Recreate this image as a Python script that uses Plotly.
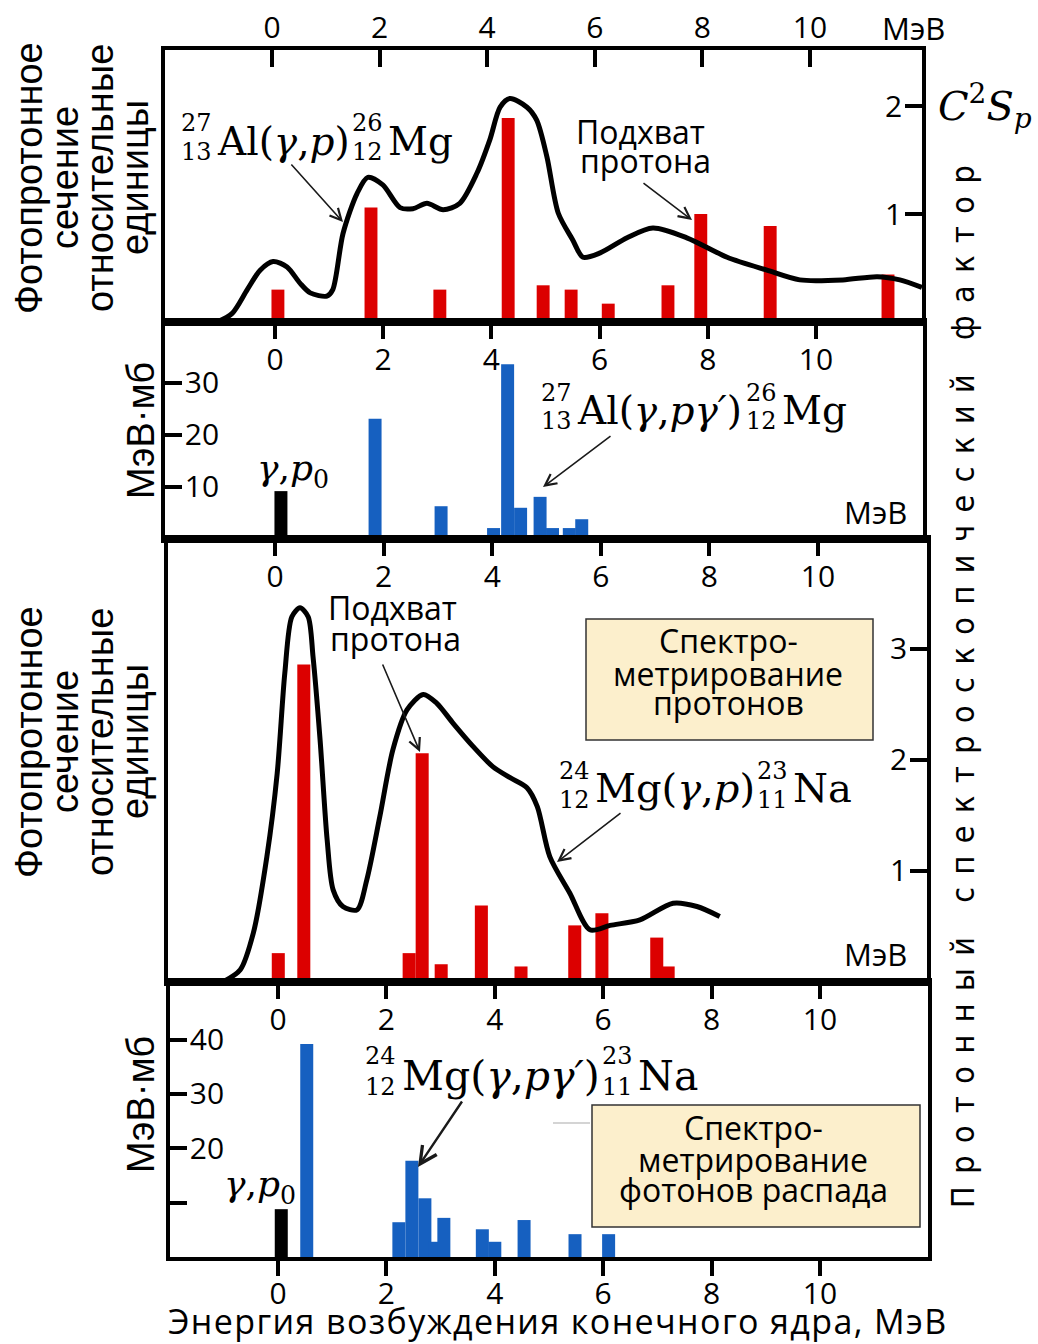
import plotly.graph_objects as go

W, H = 1038, 1344
SANS = "Open Sans, Lato, sans-serif"
ARIAL = "Liberation Sans, Arial, sans-serif"
NARROW = "Liberation Sans Narrow, DejaVu Sans Condensed, Liberation Sans, sans-serif"
SERIF = "DejaVu Serif, Liberation Serif, serif"
RED = "#dc0000"
BLUE = "#1660c0"
CREAM = "#fcefcc"

tick_mev = [0, 2, 4, 6, 8, 10]

# 27Al(γ,p)26Mg — photoproton cross-section (relative units, on the C²Sp scale)
al_curve_e = [-1.02, -0.74, -0.46, -0.22, 0.02, 0.28, 0.52, 0.71, 1.02, 1.13,
              1.32, 1.58, 1.78, 2.06, 2.38, 2.62, 2.88, 3.18, 3.49, 3.81,
              4.05, 4.24, 4.42, 4.74, 4.92, 5.11, 5.32, 5.59, 5.78, 6.10,
              6.60, 7.08, 7.71, 8.46, 9.20, 9.81, 10.61, 11.25, 11.67, 12.08]
al_curve_v = [0.00, 0.08, 0.30, 0.48, 0.56, 0.51, 0.36, 0.27, 0.24, 0.30,
              0.82, 1.19, 1.34, 1.27, 1.06, 1.05, 1.10, 1.04, 1.10, 1.38,
              1.69, 1.99, 2.07, 1.99, 1.87, 1.53, 1.01, 0.76, 0.60, 0.64,
              0.78, 0.87, 0.78, 0.60, 0.48, 0.39, 0.39, 0.42, 0.39, 0.32]
# proton spectroscopic factors of 26Mg levels
al_level_e = [0.11, 1.84, 3.12, 4.39, 5.04, 5.56, 6.25, 7.36, 7.97, 9.26, 11.45]
al_c2sp = [0.30, 1.06, 0.30, 1.89, 0.34, 0.30, 0.17, 0.34, 1.00, 0.89, 0.44]

# 27Al(γ,pγ')26Mg — decay-photon spectrometry, MeV·mb
al_p0_e = [0.11]
al_p0_v = [9.2]
al_gamma_e = [1.85, 3.07, 3.65, 4.04, 4.30, 4.54, 4.90, 5.13, 5.44, 5.67]
al_gamma_v = [23.1, 6.3, 0.6, 2.1, 33.6, 6.0, 8.1, 2.1, 2.1, 3.8]

# 24Mg(γ,p)23Na — photoproton cross-section (relative units, on the C²Sp scale)
mg_curve_e = [-0.96, -0.64, -0.40, -0.15, 0.04, 0.18, 0.31, 0.46, 0.61, 0.70,
              0.83, 0.96, 1.07, 1.25, 1.51, 1.69, 1.93, 2.17, 2.43, 2.73,
              2.98, 3.28, 3.65, 4.01, 4.33, 4.64, 4.83, 5.06, 5.43, 5.80,
              6.17, 6.72, 7.33, 7.77, 8.19]
mg_curve_v = [0.00, 0.11, 0.44, 1.13, 1.88, 2.78, 3.29, 3.37, 3.29, 2.93,
              2.18, 1.28, 0.83, 0.68, 0.65, 0.92, 1.49, 2.09, 2.45, 2.59,
              2.51, 2.33, 2.12, 1.94, 1.84, 1.75, 1.58, 1.13, 0.80, 0.47,
              0.51, 0.56, 0.71, 0.68, 0.59]
# proton spectroscopic factors of 23Na levels
mg_level_e = [0.06, 0.53, 2.47, 2.71, 3.06, 3.80, 4.53, 5.52, 6.02, 7.03, 7.24]
mg_c2sp = [0.26, 2.86, 0.26, 2.06, 0.16, 0.69, 0.14, 0.51, 0.62, 0.40, 0.14]

# 24Mg(γ,pγ')23Na — decay-photon spectrometry, MeV·mb
mg_p0_e = [0.06]
mg_p0_v = [8.8]
mg_gamma_e = [0.53, 2.23, 2.47, 2.71, 2.90, 3.06, 3.77, 4.00, 4.54, 5.48, 6.10]
mg_gamma_v = [39.2, 6.4, 17.7, 10.8, 2.8, 7.2, 5.1, 2.8, 6.8, 4.2, 4.2]

BAR_W = 0.24


def px(x):
    return x / W


def py(y):
    return 1 - y / H


# panel frames in page pixels, axis ranges in data units
panels = {
    1: dict(x=(165, 922), y=(50, 322), xr=(-1.989, 12.082), yr=(0, 2.52)),
    2: dict(x=(165, 923), y=(322, 539), xr=(-2.033, 11.978), yr=(0, 41.7)),
    3: dict(x=(168, 927), y=(539, 982), xr=(-1.971, 12.007), yr=(0, 3.99)),
    4: dict(x=(170, 928), y=(982, 1257), xr=(-1.993, 11.993), yr=(0, 50.6)),
}

fig = go.Figure()


def curve(e, v, xa, ya):
    fig.add_trace(go.Scatter(x=e, y=v, mode="lines", xaxis=xa, yaxis=ya,
                             line=dict(color="black", width=5, shape="spline", smoothing=0.8),
                             hoverinfo="skip"))


def bars(e, v, xa, ya, color):
    fig.add_trace(go.Bar(x=e, y=v, width=BAR_W, xaxis=xa, yaxis=ya,
                         marker=dict(color=color, line=dict(width=0)), hoverinfo="skip"))


curve(al_curve_e, al_curve_v, "x1", "y1")
bars(al_level_e, al_c2sp, "x1", "y1", RED)
bars(al_p0_e, al_p0_v, "x2", "y2", "black")
bars(al_gamma_e, al_gamma_v, "x2", "y2", BLUE)
curve(mg_curve_e, mg_curve_v, "x3", "y3")
bars(mg_level_e, mg_c2sp, "x3", "y3", RED)
bars(mg_gamma_e, mg_gamma_v, "x4", "y4", BLUE)
# ground-state (γ,p0) bar sits on the bottom energy scale of the lowest panel
bars(mg_p0_e, mg_p0_v, "x5", "y4", "black")

tickfont = dict(family=SANS, size=30, color="black")
frame = dict(showline=True, linecolor="black", linewidth=3.5, mirror=True,
             showgrid=False, zeroline=False, ticks="inside", tickwidth=3.5,
             tickcolor="black", ticklen=17, tickfont=tickfont, fixedrange=True)

layout_axes = {}
for n, p in panels.items():
    xd = [px(p["x"][0]), px(p["x"][1])]
    yd = [py(p["y"][1]), py(p["y"][0])]
    layout_axes[f"xaxis{n}"] = dict(frame, domain=xd, range=list(p["xr"]), anchor=f"y{n}",
                                    side="top", tickvals=tick_mev,
                                    ticklabelposition="outside" if n == 1 else "inside",
                                    ticklabelstandoff=-4 if n == 1 else 13)
    layout_axes[f"yaxis{n}"] = dict(frame, domain=yd, range=list(p["yr"]), anchor=f"x{n}",
                                    ticklabelposition="inside", ticklabelstandoff=6)

layout_axes["yaxis1"].update(side="right", tickvals=[1, 2])
layout_axes["yaxis2"].update(side="left", tickvals=[10, 20, 30])
layout_axes["yaxis3"].update(side="right", tickvals=[1, 2, 3])
layout_axes["yaxis4"].update(side="left", tickvals=[10, 20, 30, 40],
                             ticktext=["", "20", "30", "40"])
# bottom energy scale of the lowest panel
layout_axes["xaxis5"] = dict(overlaying="x4", anchor="y4", side="bottom", range=list(panels[4]["xr"]),
                             showline=False, showgrid=False, zeroline=False, ticks="outside",
                             ticklen=18, tickwidth=3.5, tickcolor="black", tickvals=tick_mev,
                             tickfont=tickfont, ticklabelstandoff=-8, fixedrange=True)

ann = []


def text(x, y, s, size=32, family=SANS, xanchor="center", angle=0, color="black"):
    ann.append(dict(x=px(x), y=py(y), xref="paper", yref="paper", text=s, showarrow=False,
                    xanchor=xanchor, yanchor="middle", textangle=angle,
                    font=dict(family=family, size=size, color=color)))


def arrow(tail, head, width=1.6):
    ann.append(dict(x=px(head[0]), y=py(head[1]), xref="paper", yref="paper",
                    ax=tail[0] - head[0], ay=tail[1] - head[1], axref="pixel", ayref="pixel",
                    text="", showarrow=True, arrowhead=5, arrowsize=1.4, arrowwidth=width,
                    arrowcolor="#1a1a1a", standoff=0, startstandoff=0))


def nuclide(pre_a, pre_z, body, post_a, post_z, elem, xs, ys, size=38):
    """Reaction label with stacked mass/charge numbers on both nuclei.
    xs = (right edge of left indices, start of body, start of right indices, start of element)
    ys = (superscript centre, main text centre, subscript centre)"""
    x_pre, x_body, x_post, x_elem = xs
    y_sup, y_main, y_sub = ys
    text(x_pre, y_sup, pre_a, 24, SERIF, "right")
    text(x_pre, y_sub, pre_z, 24, SERIF, "right")
    text(x_body, y_main, body, size, SERIF, "left")
    text(x_post, y_sup, post_a, 24, SERIF, "left")
    text(x_post, y_sub, post_z, 24, SERIF, "left")
    text(x_elem, y_main, elem, size, SERIF, "left")


# ---- panel 1
text(913, 28, "МэВ", 31)
nuclide("27", "13", "Al(<i>γ</i>,<i>p</i>)", "26", "12", "Mg",
        (214, 215, 350, 386), (123, 141, 152), 39)
arrow((290, 163), (343, 222))
text(640, 131, "Подхват", 32)
text(645, 160, "протона", 32)
arrow((642, 182), (692, 220))
text(985, 106, "<i>C</i><sup>2</sup><i>S</i><sub><i>p</i></sub>", 40, SERIF)

# ---- panel 2
text(293, 470, "<i>γ</i>,<i>p</i><sub>0</sub>", 36, SERIF)
nuclide("27", "13", "Al(<i>γ</i>,<i>pγ′</i>)", "26", "12", "Mg",
        (574, 575, 744, 780), (393, 411, 421), 39)
arrow((612, 435), (543, 487))
text(875, 512, "МэВ", 31)

# ---- panel 3
text(392, 607, "Подхват", 32)
text(395, 638, "протона", 32)
arrow((382, 663), (420, 752))
text(728, 640, "Спектро-", 32)
text(728, 673, "метрирование", 32)
text(728, 702, "протонов", 32)
nuclide("24", "12", "Mg(<i>γ</i>,<i>p</i>)", "23", "11", "Na",
        (592, 593, 755, 791), (771, 788, 800), 40)
arrow((622, 812), (557, 862))
text(875, 954, "МэВ", 31)

# ---- panel 4
text(260, 1186, "<i>γ</i>,<i>p</i><sub>0</sub>", 36, SERIF)
nuclide("24", "12", "Mg(<i>γ</i>,<i>pγ′</i>)", "23", "11", "Na",
        (398, 400, 600, 636), (1056, 1076, 1087), 41)
arrow((463, 1100), (418, 1167), 2.4)
text(753, 1127, "Спектро-", 32)
text(753, 1159, "метрирование", 32)
text(753, 1189, "фотонов распада", 32)

# ---- axis titles
for cy in (178, 742):
    for cx, line in zip((29, 65, 100, 135),
                        ("Фотопротонное", "сечение", "относительные", "единицы")):
        text(cx, cy, line, 38, ARIAL, angle=-90)
text(141, 431, "МэВ·мб", 38, ARIAL, angle=-90)
text(141, 1105, "МэВ·мб", 38, ARIAL, angle=-90)
text(963, 681, '<span style="letter-spacing:12.5px">Протонный спектроскопический фактор</span>',
     32, NARROW, angle=-90)
text(558, 1321, '<span style="letter-spacing:1.4px">Энергия возбуждения конечного ядра, МэВ</span>', 34)

shapes = [
    dict(type="rect", xref="paper", yref="paper", x0=px(586), x1=px(873), y0=py(740), y1=py(619),
         fillcolor=CREAM, line=dict(color="#333333", width=1.5), layer="below"),
    dict(type="rect", xref="paper", yref="paper", x0=px(592), x1=px(920), y0=py(1227), y1=py(1105),
         fillcolor=CREAM, line=dict(color="#333333", width=1.5), layer="below"),
    dict(type="line", xref="paper", yref="paper", x0=px(553), x1=px(590), y0=py(1123), y1=py(1123),
         line=dict(color="#d4d4d4", width=2)),
]

fig.update_layout(width=W, height=H, margin=dict(l=0, r=0, t=0, b=0),
                  paper_bgcolor="white", plot_bgcolor="rgba(0,0,0,0)",
                  showlegend=False, barmode="overlay", annotations=ann, shapes=shapes,
                  **layout_axes)

fig.write_html("out.html")
